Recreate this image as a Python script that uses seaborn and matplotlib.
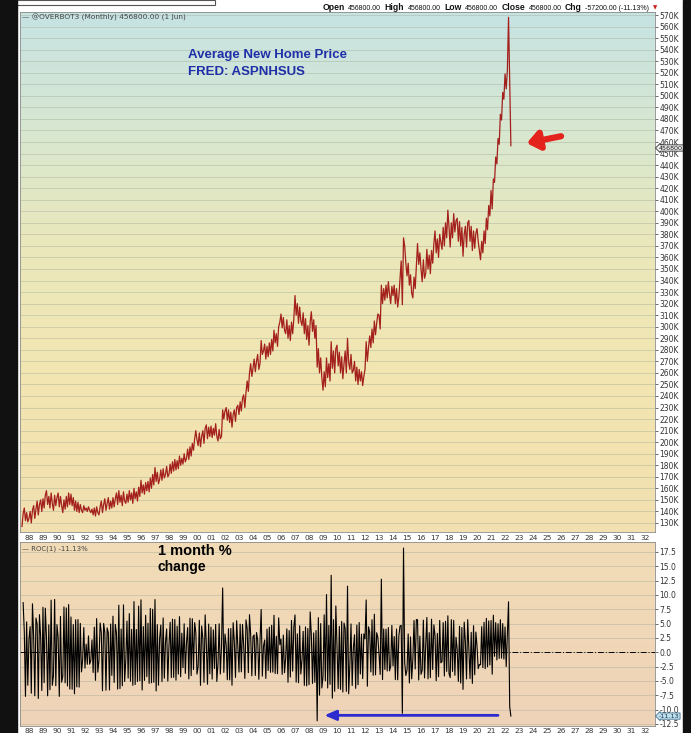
import numpy as np
import pandas as pd
import matplotlib
matplotlib.use("Agg")
import matplotlib.pyplot as plt
import matplotlib.transforms as mtransforms
from matplotlib.colors import LinearSegmentedColormap
from matplotlib.patches import Rectangle
from matplotlib.offsetbox import TextArea, HPacker, AnchoredOffsetbox
import seaborn as sns

# ---------------- data ----------------
start_year, start_month = 1987, 7          # first monthly observation
price_1987_1999 = [
    127, 138, 143, 132, 139, 131,
    134, 140, 130, 141, 145, 134, 142, 149, 137, 146, 150, 140,
    151, 143, 154, 158, 146, 153, 143, 156, 147, 141, 154, 145,
    152, 156, 144, 153, 145, 139, 150, 142, 153, 144, 156, 146,
    155, 145, 152, 141, 149, 140, 148, 139, 146, 141, 139, 145,
    141, 143, 140, 144, 141, 139, 142, 137, 143, 136, 144, 139,
    137, 144, 149, 139, 146, 151, 141, 147, 152, 142, 149, 143,
    152, 144, 151, 156, 146, 158, 148, 154, 145, 157, 149, 147,
    155, 148, 158, 150, 156, 147, 160, 151, 157, 149, 161, 153,
    167, 156, 163, 155, 165, 158, 166, 157, 169, 160, 172, 163,
    178, 166, 174, 164, 168, 176, 167, 177, 169, 172, 179, 170,
    172, 181, 173, 183, 175, 185, 176, 184, 177, 188, 180, 186,
    181, 190, 183, 186, 194, 185, 196, 188, 199, 193, 203, 210,
]
price_2000_2009 = [
    202, 197, 208, 196, 205, 210, 199, 212, 215, 203, 213, 205,
    214, 204, 212, 206, 216, 205, 201, 211, 203, 205, 228, 220,
    227, 230, 219, 228, 217, 226, 213, 224, 228, 218, 230, 232,
    224, 235, 227, 238, 241, 230, 243, 253, 244, 260, 268, 257,
    264, 272, 261, 270, 276, 263, 268, 288, 276, 279, 285, 272,
    283, 274, 286, 276, 289, 279, 297, 286, 294, 283, 300, 304,
    311, 299, 308, 297, 294, 306, 290, 301, 288, 304, 294, 307,
    327, 310, 320, 303, 317, 305, 301, 312, 294, 307, 289, 301,
    284, 304, 313, 296, 306, 290, 301, 265, 281, 260, 273, 256,
    245, 261, 248, 273, 256, 268, 253, 287, 264, 279, 260, 281,
]
price_2010_2022 = [
    284, 266, 278, 260, 274, 255, 268, 279, 260, 290, 269, 263,
    276, 260, 262, 270, 253, 265, 250, 263, 253, 261, 249, 257,
    263, 287, 270, 282, 292, 282, 298, 286, 305, 293, 303, 311,
    310, 298, 336, 320, 333, 323, 336, 325, 339, 328, 320, 335,
    327, 336, 320, 333, 317, 326, 341, 357, 319, 377, 370, 355,
    344, 355, 336, 345, 329, 325, 343, 333, 352, 372, 354, 364,
    350, 339, 358, 342, 346, 367, 350, 362, 346, 366, 355, 372,
    383, 364, 376, 360, 380, 373, 367, 386, 370, 390, 377, 401,
    386, 369, 390, 377, 398, 382, 392, 394, 374, 391, 370, 386,
    361, 380, 387, 369, 390, 392, 374, 387, 366, 383, 368, 381,
    385, 374, 366, 358, 374, 364, 383, 372, 394, 384, 405, 396,
    418, 402, 428, 425, 447, 441, 463, 458, 484, 479, 503, 497,
    519, 506, 522, 568, 514, 456.8,
]
year_ticks = list(range(1988, 2033))
year_labels = [f"{y % 100:02d}" for y in year_ticks]
price_ticks = list(range(130, 571, 10))
roc_ticks = [-12.5, -10.0, -7.5, -5.0, -2.5, 0.0, 2.5, 5.0, 7.5, 10.0, 12.5, 15.0, 17.5]

prices = price_1987_1999 + price_2000_2009 + price_2010_2022
dates = pd.date_range(f"{start_year}-{start_month:02d}-01", periods=len(prices), freq="MS")
df = pd.DataFrame({"date": dates, "price": prices})
df["t"] = df["date"].dt.year + (df["date"].dt.month - 1) / 12.0
df["roc"] = df["price"].pct_change() * 100.0

# ---------------- figure geometry ----------------
W, H = 691, 733
fig = plt.figure(figsize=(W / 100, H / 100), dpi=100, facecolor="white")
fx = lambda px: px / W
fy = lambda py: 1 - py / H
L, R = 20, 655
ax1 = fig.add_axes([fx(L), fy(532), fx(R) - fx(L), fy(12) - fy(532)])
ax2 = fig.add_axes([fx(L), fy(726), fx(R) - fx(L), fy(542) - fy(726)])

xlim = (1987.36, 2032.71)
ylim1 = (122.2, 572.6)
ylim2 = (-12.86, 19.24)

up_cmap = LinearSegmentedColormap.from_list(
    "up", [(0, "#c6e3e3"), (0.22, "#d7e7d1"), (0.45, "#eae8bb"), (0.7, "#f2e6b2"), (1, "#f3e0b0")])
lo_cmap = LinearSegmentedColormap.from_list("lo", [(0, "#f2dcb6"), (1, "#efd3b9")])
grad = np.linspace(0, 1, 256).reshape(-1, 1)
for ax, cm in ((ax1, up_cmap), (ax2, lo_cmap)):
    ax.imshow(grad, cmap=cm, aspect="auto", extent=[0, 1, 0, 1],
              transform=ax.transAxes, zorder=0)

grid_kw = dict(color="#a3ad98", lw=0.5, alpha=0.6)
for ax in (ax1, ax2):
    ax.set_xlim(*xlim)
    ax.set_xticks(year_ticks)
    ax.set_xticks([y for y in year_ticks if y % 2 == 0], minor=True)
    ax.grid(False)
    ax.grid(True, which="minor", axis="x", **grid_kw)
    ax.grid(True, which="major", axis="y", **grid_kw)
    ax.set_axisbelow(True)
    for s in ax.spines.values():
        s.set_color("#8a8a8a")
        s.set_linewidth(0.6)
    ax.yaxis.tick_right()
    ax.tick_params(axis="y", which="both", length=2, pad=1, labelsize=5.5,
                   colors="#333333", width=0.5)
    ax.tick_params(axis="x", which="both", length=0, labelsize=5.3, colors="#333333")

# ---------------- price panel ----------------
sns.lineplot(data=df, x="t", y="price", ax=ax1, color="#a3201d", lw=0.9, zorder=3)
ax1.set_ylim(*ylim1)
ax1.set_yticks(price_ticks)
ax1.set_yticklabels([f"{v}K" for v in price_ticks])
ax1.set_xticklabels(year_labels)
ax1.tick_params(axis="x", pad=2.5)
ax1.set_xlabel("")
ax1.set_ylabel("")

ax1.text(0.003, 0.990, "\u2014 @OVERBOT3 (Monthly) 456800.00 (1 Jun)", transform=ax1.transAxes,
         fontsize=5.3, color="#444444", va="center", ha="left", zorder=5)

last_price = df["price"].iloc[-1]
blend1 = mtransforms.blended_transform_factory(ax1.transAxes, ax1.transData)
ax1.text(1.006, last_price - 2, f"{last_price * 1000:.1f}", transform=blend1, fontsize=4.6,
         va="center", ha="left", color="#111111", zorder=6, clip_on=False,
         bbox=dict(boxstyle="larrow,pad=0.1", fc="#eeeeee", ec="#333333", lw=0.6))

ax1.annotate("", xy=(2023.55, 459), xytext=(2026.0, 465),
             arrowprops=dict(arrowstyle="-|>,head_length=0.7,head_width=0.55",
                             color="#e3231c", lw=4.5, shrinkA=0, shrinkB=0), zorder=6)

# ---------------- ROC panel ----------------
sns.lineplot(data=df, x="t", y="roc", ax=ax2, color="black", lw=0.8, zorder=3)
ax2.axhline(0, color="black", lw=0.7, ls=(0, (6, 2, 1, 2)), zorder=2)
ax2.set_ylim(*ylim2)
ax2.set_yticks(roc_ticks)
ax2.set_yticklabels([f"{v:.1f}" for v in roc_ticks])
ax2.set_xticklabels(year_labels)
ax2.tick_params(axis="x", pad=1.5)
ax2.set_xlabel("")
ax2.set_ylabel("")

last_roc = df["roc"].iloc[-1]
ax2.text(0.003, 0.962, f"\u2014 ROC(1) {last_roc:.2f}%", transform=ax2.transAxes,
         fontsize=5.0, color="#444444", va="center", ha="left", zorder=5)
blend2 = mtransforms.blended_transform_factory(ax2.transAxes, ax2.transData)
ax2.text(1.006, last_roc, f"{last_roc:.2f}", transform=blend2, fontsize=4.6,
         va="center", ha="left", color="#1a3550", zorder=6, clip_on=False,
         bbox=dict(boxstyle="larrow,pad=0.1", fc="#bfe0ee", ec="#44708a", lw=0.6))

ax2.annotate("", xy=(2009.1, -11.0), xytext=(2021.5, -11.0),
             arrowprops=dict(arrowstyle="-|>,head_length=0.7,head_width=0.3",
                             color="#2b2bd0", lw=2, shrinkA=0, shrinkB=0), zorder=6)

# ---------------- annotations ----------------
tf = ["Liberation Sans", "DejaVu Sans"]
fig.text(fx(188), fy(55), "Average New Home Price", color="#1f2fa8", fontsize=9.5,
         weight="bold", family=tf, va="center", ha="left")
fig.text(fx(188), fy(72), "FRED: ASPNHSUS", color="#1f2fa8", fontsize=9.5,
         weight="bold", family=tf, va="center", ha="left")
fig.text(fx(158), fy(551), "1 month %", color="black", fontsize=10.5,
         weight="bold", family=tf, va="center", ha="left")
fig.text(fx(158), fy(567), "change", color="black", fontsize=10,
         weight="bold", family=tf, va="center", ha="left")

# header line (packed so the pieces never overlap)
pieces = [("Open", True), ("456800.00", False), ("High", True), ("456800.00", False),
          ("Low", True), ("456800.00", False), ("Close", True), ("456800.00", False),
          ("Chg", True), ("-57200.00 (-11.13%)", False)]
kids = []
for s, b in pieces:
    kids.append(TextArea(s, textprops=dict(fontsize=6.2 if b else 5.0,
                                           weight="bold" if b else "normal",
                                           color="#111111", family=tf)))
kids.append(TextArea("\u25bc", textprops=dict(fontsize=4, color="#cc2222")))
hdr = HPacker(children=kids, align="baseline", pad=0, sep=2.5)
fig.add_artist(AnchoredOffsetbox(loc="center right", child=hdr, pad=0, borderpad=0,
                                 frameon=False, bbox_to_anchor=(fx(657), fy(7)),
                                 bbox_transform=fig.transFigure))

# frame details
fig.add_artist(Rectangle((0, fy(5)), fx(215), fy(0) - fy(5), transform=fig.transFigure,
                         fc="white", ec="#555555", lw=0.8, zorder=9))
fig.add_artist(Rectangle((0, 0), fx(17), 1, transform=fig.transFigure,
                         color="#111111", zorder=10))
fig.add_artist(Rectangle((fx(683), 0), 1 - fx(683), 1, transform=fig.transFigure,
                         color="#111111", zorder=10))

fig.savefig("out.png", dpi=100, facecolor="white")
